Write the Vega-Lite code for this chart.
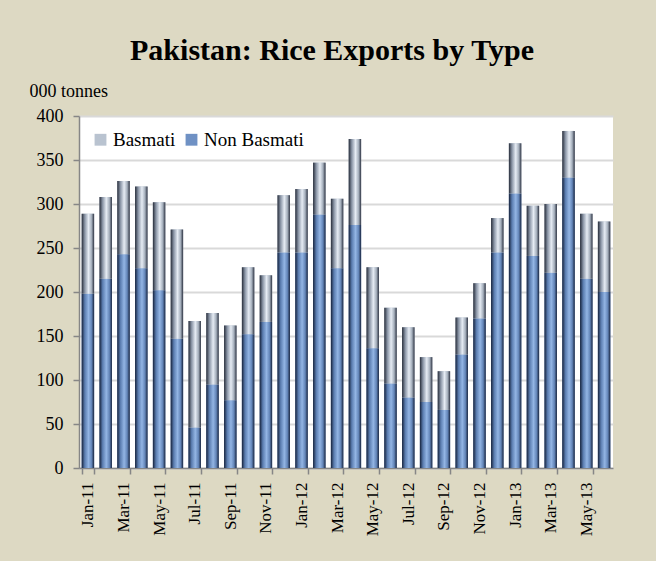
{
  "$schema": "https://vega.github.io/schema/vega-lite/v6.json",
  "width": 534,
  "height": 352,
  "autosize": {"type": "none"},
  "padding": {"left": 79, "top": 116, "right": 43, "bottom": 93},
  "background": "#DDD9C3",
  "title": {
    "text": "Pakistan: Rice Exports by Type",
    "font": "Liberation Serif",
    "fontSize": 30,
    "fontWeight": "bold",
    "color": "#000000",
    "anchor": "middle",
    "dx": -14,
    "offset": 16
  },
  "config": {
    "font": "Liberation Serif",
    "view": {"fill": "#FFFFFF", "stroke": null}
  },
  "data": {
    "values": [
      {"month": "Jan-11", "type": "Non Basmati", "value": 198}, {"month": "Jan-11", "type": "Basmati", "value": 91},
      {"month": "Feb-11", "type": "Non Basmati", "value": 215}, {"month": "Feb-11", "type": "Basmati", "value": 93},
      {"month": "Mar-11", "type": "Non Basmati", "value": 243}, {"month": "Mar-11", "type": "Basmati", "value": 83},
      {"month": "Apr-11", "type": "Non Basmati", "value": 227}, {"month": "Apr-11", "type": "Basmati", "value": 93},
      {"month": "May-11", "type": "Non Basmati", "value": 202}, {"month": "May-11", "type": "Basmati", "value": 100},
      {"month": "Jun-11", "type": "Non Basmati", "value": 147}, {"month": "Jun-11", "type": "Basmati", "value": 124},
      {"month": "Jul-11", "type": "Non Basmati", "value": 46}, {"month": "Jul-11", "type": "Basmati", "value": 121},
      {"month": "Aug-11", "type": "Non Basmati", "value": 95}, {"month": "Aug-11", "type": "Basmati", "value": 81},
      {"month": "Sep-11", "type": "Non Basmati", "value": 77}, {"month": "Sep-11", "type": "Basmati", "value": 85},
      {"month": "Oct-11", "type": "Non Basmati", "value": 152}, {"month": "Oct-11", "type": "Basmati", "value": 76},
      {"month": "Nov-11", "type": "Non Basmati", "value": 166}, {"month": "Nov-11", "type": "Basmati", "value": 53},
      {"month": "Dec-11", "type": "Non Basmati", "value": 245}, {"month": "Dec-11", "type": "Basmati", "value": 65},
      {"month": "Jan-12", "type": "Non Basmati", "value": 245}, {"month": "Jan-12", "type": "Basmati", "value": 72},
      {"month": "Feb-12", "type": "Non Basmati", "value": 288}, {"month": "Feb-12", "type": "Basmati", "value": 59},
      {"month": "Mar-12", "type": "Non Basmati", "value": 227}, {"month": "Mar-12", "type": "Basmati", "value": 79},
      {"month": "Apr-12", "type": "Non Basmati", "value": 276}, {"month": "Apr-12", "type": "Basmati", "value": 98},
      {"month": "May-12", "type": "Non Basmati", "value": 136}, {"month": "May-12", "type": "Basmati", "value": 92},
      {"month": "Jun-12", "type": "Non Basmati", "value": 96}, {"month": "Jun-12", "type": "Basmati", "value": 86},
      {"month": "Jul-12", "type": "Non Basmati", "value": 80}, {"month": "Jul-12", "type": "Basmati", "value": 80},
      {"month": "Aug-12", "type": "Non Basmati", "value": 75}, {"month": "Aug-12", "type": "Basmati", "value": 51},
      {"month": "Sep-12", "type": "Non Basmati", "value": 66}, {"month": "Sep-12", "type": "Basmati", "value": 44},
      {"month": "Oct-12", "type": "Non Basmati", "value": 129}, {"month": "Oct-12", "type": "Basmati", "value": 42},
      {"month": "Nov-12", "type": "Non Basmati", "value": 170}, {"month": "Nov-12", "type": "Basmati", "value": 40},
      {"month": "Dec-12", "type": "Non Basmati", "value": 245}, {"month": "Dec-12", "type": "Basmati", "value": 39},
      {"month": "Jan-13", "type": "Non Basmati", "value": 312}, {"month": "Jan-13", "type": "Basmati", "value": 57},
      {"month": "Feb-13", "type": "Non Basmati", "value": 241}, {"month": "Feb-13", "type": "Basmati", "value": 57},
      {"month": "Mar-13", "type": "Non Basmati", "value": 222}, {"month": "Mar-13", "type": "Basmati", "value": 78},
      {"month": "Apr-13", "type": "Non Basmati", "value": 330}, {"month": "Apr-13", "type": "Basmati", "value": 53},
      {"month": "May-13", "type": "Non Basmati", "value": 215}, {"month": "May-13", "type": "Basmati", "value": 74},
      {"month": "Jun-13", "type": "Non Basmati", "value": 200}, {"month": "Jun-13", "type": "Basmati", "value": 80}
    ]
  },
  "encoding": {
    "x": {
      "field": "month",
      "type": "ordinal",
      "sort": null,
      "scale": {"paddingInner": 0.3, "paddingOuter": 0.15},
      "axis": {
        "title": null,
        "values": ["Jan-11", "Mar-11", "May-11", "Jul-11", "Sep-11", "Nov-11", "Jan-12", "Mar-12", "May-12", "Jul-12", "Sep-12", "Nov-12", "Jan-13", "Mar-13", "May-13"],
        "tickBand": "extent",
        "labelAngle": -90,
        "labelAlign": "right",
        "labelBaseline": "middle",
        "labelFont": "Liberation Serif",
        "labelFontSize": 17,
        "labelColor": "#000000",
        "labelPadding": 8,
        "domainColor": "#868686",
        "domainWidth": 1.5,
        "tickColor": "#868686",
        "tickWidth": 1.5,
        "tickSize": 6,
        "grid": false
      }
    },
    "y": {
      "field": "value",
      "type": "quantitative",
      "stack": "zero",
      "scale": {"domain": [0, 400], "nice": false},
      "axis": {
        "values": [0, 50, 100, 150, 200, 250, 300, 350, 400],
        "title": "000 tonnes",
        "titleAngle": 0,
        "titleAlign": "left",
        "titleBaseline": "alphabetic",
        "titleX": -50,
        "titleY": -20,
        "titleFont": "Liberation Serif",
        "titleFontSize": 18,
        "titleFontWeight": "normal",
        "titleColor": "#000000",
        "labelFont": "Liberation Serif",
        "labelFontSize": 18,
        "labelColor": "#000000",
        "labelPadding": 10,
        "domainColor": "#868686",
        "domainWidth": 1.5,
        "tickColor": "#868686",
        "tickWidth": 1.5,
        "tickSize": 6,
        "gridColor": "#D9D9D9",
        "gridWidth": 2
      }
    },
    "order": {"field": "type", "sort": "descending"}
  },
  "layer": [
    {
      "mark": {"type": "bar"},
      "encoding": {
        "color": {
          "field": "type",
          "type": "nominal",
          "scale": {"domain": ["Basmati", "Non Basmati"], "range": ["#b9c3d0", "#6f91c4"]},
          "legend": {
            "title": null,
            "orient": "none",
            "legendX": 12,
            "legendY": 14,
            "direction": "horizontal",
            "symbolType": "square",
            "symbolSize": 140,
            "symbolStrokeWidth": 0,
            "labelFont": "Liberation Serif",
            "labelFontSize": 19,
            "labelColor": "#000000",
            "labelOffset": 3,
            "columnPadding": 6,
            "encode": {
              "symbols": {
                "update": {
                  "fill": {"signal": "datum.value === 'Basmati' ? {gradient: 'linear', x1: 0, y1: 0, x2: 1, y2: 0, stops: [{offset: 0, color: '#252b38'}, {offset: 0.3, color: '#8a95a6'}, {offset: 0.6, color: '#e6ecf4'}, {offset: 0.85, color: '#a4aebb'}, {offset: 1, color: '#2b3140'}]} : {gradient: 'linear', x1: 0, y1: 0, x2: 1, y2: 0, stops: [{offset: 0, color: '#15213a'}, {offset: 0.3, color: '#5b7db0'}, {offset: 0.6, color: '#93b5e4'}, {offset: 0.85, color: '#6385b8'}, {offset: 1, color: '#17233d'}]}"}
                }
              }
            }
          }
        }
      }
    },
    {
      "mark": {"type": "bar"},
      "encoding": {
        "detail": {"field": "type"},
        "fill": {
          "condition": {"test": "datum.type === 'Basmati'", "value": {"gradient": "linear", "x1": 0, "y1": 0, "x2": 1, "y2": 0, "stops": [
            {"offset": 0, "color": "#252b38"},
            {"offset": 0.25, "color": "#8a95a6"},
            {"offset": 0.55, "color": "#e6ecf4"},
            {"offset": 0.8, "color": "#a4aebb"},
            {"offset": 1, "color": "#2b3140"}
          ]}},
          "value": {"gradient": "linear", "x1": 0, "y1": 0, "x2": 1, "y2": 0, "stops": [
            {"offset": 0, "color": "#15213a"},
            {"offset": 0.25, "color": "#5b7db0"},
            {"offset": 0.55, "color": "#93b5e4"},
            {"offset": 0.8, "color": "#6385b8"},
            {"offset": 1, "color": "#17233d"}
          ]}
        }
      }
    }
  ]
}
